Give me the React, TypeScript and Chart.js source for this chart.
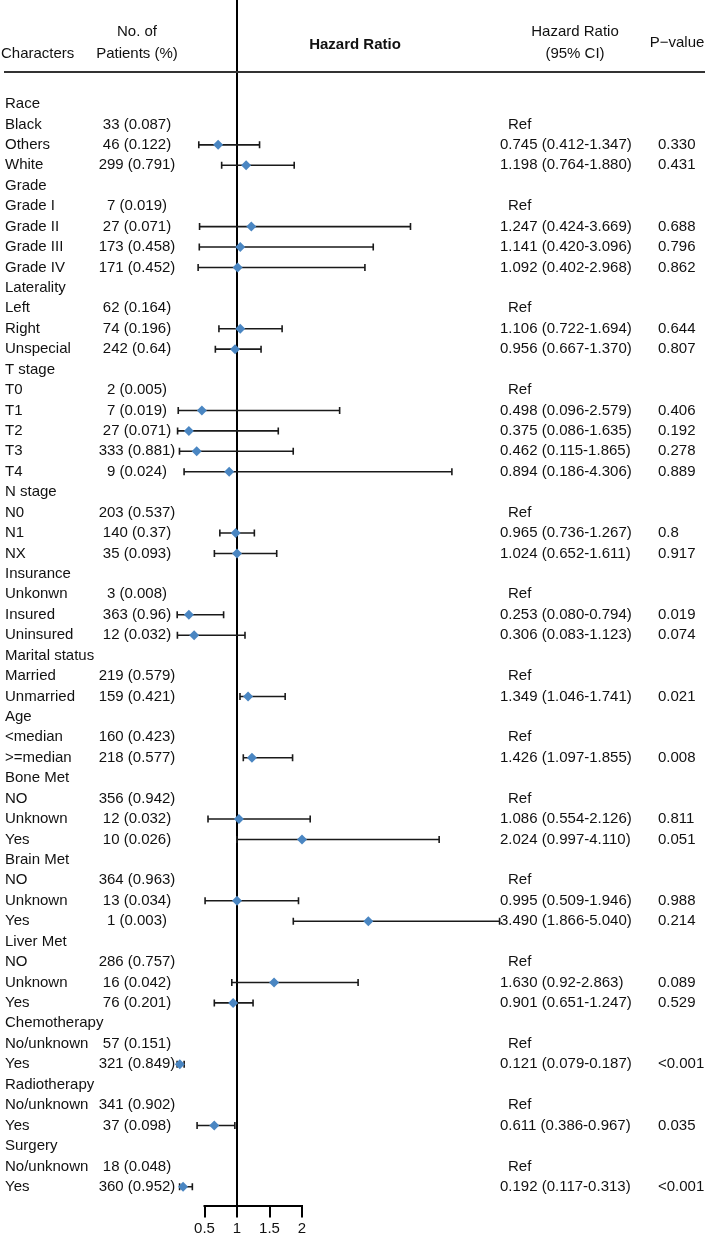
import { useEffect, useRef } from 'react';
import Chart from 'chart.js/auto';

const rowLabels = ['Race', 'Black', 'Others', 'White', 'Grade', 'Grade I', 'Grade II', 'Grade III', 'Grade IV', 'Laterality', 'Left', 'Right', 'Unspecial', 'T stage', 'T0', 'T1', 'T2', 'T3', 'T4', 'N stage', 'N0', 'N1', 'NX', 'Insurance', 'Unkonwn', 'Insured', 'Uninsured', 'Marital status', 'Married', 'Unmarried', 'Age', '<median', '>=median', 'Bone Met', 'NO', 'Unknown', 'Yes', 'Brain Met', 'NO', 'Unknown', 'Yes', 'Liver Met', 'NO', 'Unknown', 'Yes', 'Chemotherapy', 'No/unknown', 'Yes', 'Radiotherapy', 'No/unknown', 'Yes', 'Surgery', 'No/unknown', 'Yes'];

const patientCounts = ['', '33 (0.087)', '46 (0.122)', '299 (0.791)', '', '7 (0.019)', '27 (0.071)', '173 (0.458)', '171 (0.452)', '', '62 (0.164)', '74 (0.196)', '242 (0.64)', '', '2 (0.005)', '7 (0.019)', '27 (0.071)', '333 (0.881)', '9 (0.024)', '', '203 (0.537)', '140 (0.37)', '35 (0.093)', '', '3 (0.008)', '363 (0.96)', '12 (0.032)', '', '219 (0.579)', '159 (0.421)', '', '160 (0.423)', '218 (0.577)', '', '356 (0.942)', '12 (0.032)', '10 (0.026)', '', '364 (0.963)', '13 (0.034)', '1 (0.003)', '', '286 (0.757)', '16 (0.042)', '76 (0.201)', '', '57 (0.151)', '321 (0.849)', '', '341 (0.902)', '37 (0.098)', '', '18 (0.048)', '360 (0.952)'];

const hrLabels = ['', 'Ref', '0.745 (0.412-1.347)', '1.198 (0.764-1.880)', '', 'Ref', '1.247 (0.424-3.669)', '1.141 (0.420-3.096)', '1.092 (0.402-2.968)', '', 'Ref', '1.106 (0.722-1.694)', '0.956 (0.667-1.370)', '', 'Ref', '0.498 (0.096-2.579)', '0.375 (0.086-1.635)', '0.462 (0.115-1.865)', '0.894 (0.186-4.306)', '', 'Ref', '0.965 (0.736-1.267)', '1.024 (0.652-1.611)', '', 'Ref', '0.253 (0.080-0.794)', '0.306 (0.083-1.123)', '', 'Ref', '1.349 (1.046-1.741)', '', 'Ref', '1.426 (1.097-1.855)', '', 'Ref', '1.086 (0.554-2.126)', '2.024 (0.997-4.110)', '', 'Ref', '0.995 (0.509-1.946)', '3.490 (1.866-5.040)', '', 'Ref', '1.630 (0.92-2.863)', '0.901 (0.651-1.247)', '', 'Ref', '0.121 (0.079-0.187)', '', 'Ref', '0.611 (0.386-0.967)', '', 'Ref', '0.192 (0.117-0.313)'];

const pValues = ['', '', '0.330', '0.431', '', '', '0.688', '0.796', '0.862', '', '', '0.644', '0.807', '', '', '0.406', '0.192', '0.278', '0.889', '', '', '0.8', '0.917', '', '', '0.019', '0.074', '', '', '0.021', '', '', '0.008', '', '', '0.811', '0.051', '', '', '0.988', '0.214', '', '', '0.089', '0.529', '', '', '<0.001', '', '', '0.035', '', '', '<0.001'];

// marker positions as drawn in the picture
const hrMarkers: (number | null)[] = [null, null, 0.71, 1.14, null, null, 1.22, 1.05, 1.01, null, null, 1.05, 0.97, null, null, 0.46, 0.26, 0.38, 0.88, null, null, 0.98, 1.0, null, null, 0.26, 0.34, null, null, 1.17, null, null, 1.23, null, null, 1.03, 2.0, null, null, 1.0, 3.02, null, null, 1.57, 0.94, null, null, 0.12, null, null, 0.65, null, null, 0.17];

const ciLower: (number | null)[] = [null, null, 0.412, 0.764, null, null, 0.424, 0.420, 0.402, null, null, 0.722, 0.667, null, null, 0.096, 0.086, 0.115, 0.186, null, null, 0.736, 0.652, null, null, 0.080, 0.083, null, null, 1.046, null, null, 1.097, null, null, 0.554, 0.997, null, null, 0.509, 1.866, null, null, 0.92, 0.651, null, null, 0.079, null, null, 0.386, null, null, 0.117];

const ciUpper: (number | null)[] = [null, null, 1.347, 1.880, null, null, 3.669, 3.096, 2.968, null, null, 1.694, 1.370, null, null, 2.579, 1.635, 1.865, 4.306, null, null, 1.267, 1.611, null, null, 0.794, 1.123, null, null, 1.741, null, null, 1.855, null, null, 2.126, 4.110, null, null, 1.946, 5.040, null, null, 2.863, 1.247, null, null, 0.187, null, null, 0.967, null, null, 0.313];

const axisTicks = [0.5, 1, 1.5, 2];

const FONT = '"Liberation Sans", Arial, Helvetica, sans-serif';
// layout of the plot: pixel of HR = 1, pixels per HR unit, first row centre, row pitch
const X_ONE = 237;
const X_UNIT = 65;
const ROW0 = 104;
const ROW_STEP = 20.43;

export default function App() {
  const ref = useRef<HTMLCanvasElement>(null);

  useEffect(() => {
    document.body.style.margin = '0';
    const canvas = ref.current!;
    const ciData: any[] = [];
    const capData: any[] = [];
    const markerData: any[] = [];
    rowLabels.forEach((_, i) => {
      const lo = ciLower[i];
      const hi = ciUpper[i];
      if (lo != null && hi != null) {
        ciData.push({ x: lo, y: i }, { x: hi, y: i }, { x: null, y: null });
        capData.push({ x: lo, y: i }, { x: hi, y: i });
      }
      const m = hrMarkers[i];
      if (m != null) markerData.push({ x: m, y: i });
    });

    const fitPlugin = {
      id: 'fitScales',
      afterLayout(chart: any) {
        const a = chart.chartArea;
        const xs = chart.scales.x;
        const ys = chart.scales.y;
        xs.min = 1 - (X_ONE - a.left) / X_UNIT;
        xs.max = 1 + (a.right - X_ONE) / X_UNIT;
        xs.configure();
        ys.min = (a.top - ROW0) / ROW_STEP;
        ys.max = (a.bottom - ROW0) / ROW_STEP;
        ys.configure();
      },
    };

    const textPlugin = {
      id: 'forestText',
      afterDraw(chart: any) {
        const ctx = chart.ctx as CanvasRenderingContext2D;
        const ys = chart.scales.y;
        const xs = chart.scales.x;
        ctx.save();
        ctx.fillStyle = '#111';
        ctx.textBaseline = 'middle';
        ctx.font = `15px ${FONT}`;
        // header
        ctx.textAlign = 'left';
        ctx.fillText('Characters', 1, 54);
        ctx.textAlign = 'center';
        ctx.fillText('No. of', 137, 32);
        ctx.fillText('Patients (%)', 137, 54);
        ctx.fillText('Hazard Ratio', 575, 32);
        ctx.fillText('(95% CI)', 575, 54);
        ctx.fillText('P\u2212value', 677, 43);
        ctx.font = `bold 15px ${FONT}`;
        ctx.fillText('Hazard Ratio', 355, 45);
        // header rule
        ctx.strokeStyle = '#333';
        ctx.lineWidth = 2;
        ctx.beginPath();
        ctx.moveTo(4, 72);
        ctx.lineTo(705, 72);
        ctx.stroke();
        // rows
        ctx.font = `15px ${FONT}`;
        rowLabels.forEach((lab, i) => {
          const py = ys.getPixelForValue(i);
          ctx.textAlign = 'left';
          ctx.fillText(lab, 5, py);
          if (patientCounts[i]) {
            ctx.textAlign = 'center';
            ctx.fillText(patientCounts[i], 137, py);
          }
          if (hrLabels[i]) {
            ctx.textAlign = 'left';
            ctx.fillText(hrLabels[i], hrLabels[i] === 'Ref' ? 508 : 500, py);
          }
          if (pValues[i]) {
            ctx.textAlign = 'left';
            ctx.fillText(pValues[i], 658, py);
          }
        });
        // bottom axis line between first and last tick
        ctx.strokeStyle = '#000';
        ctx.lineWidth = 2;
        ctx.beginPath();
        const by = Math.round(chart.chartArea.bottom);
        ctx.moveTo(xs.getPixelForValue(axisTicks[0]) - 1, by);
        ctx.lineTo(xs.getPixelForValue(axisTicks[axisTicks.length - 1]) + 1, by);
        ctx.stroke();
        ctx.restore();
      },
    };

    const chart = new Chart(canvas, {
      type: 'scatter',
      data: {
        datasets: [
          {
            label: 'CI',
            data: ciData,
            showLine: true,
            spanGaps: false,
            borderColor: '#1a1a1a',
            borderWidth: 1.6,
            pointRadius: 0,
            order: 3,
          } as any,
          {
            label: 'caps',
            data: capData,
            pointStyle: 'line',
            rotation: 90,
            pointRadius: 3.5,
            borderColor: '#1a1a1a',
            borderWidth: 1.6,
            order: 2,
          } as any,
          {
            label: 'HR',
            data: markerData,
            pointStyle: 'rectRot',
            pointRadius: 5,
            backgroundColor: '#4a86c2',
            borderColor: '#4a86c2',
            borderWidth: 0,
            order: 1,
          } as any,
        ],
      },
      options: {
        animation: false,
        responsive: false,
        devicePixelRatio: 1,
        events: [],
        layout: { padding: 0, autoPadding: false },
        plugins: { legend: { display: false }, tooltip: { enabled: false } },
        scales: {
          x: {
            type: 'linear',
            min: 1 - X_ONE / X_UNIT,
            max: 1 + (706 - X_ONE) / X_UNIT,
            afterBuildTicks: (s: any) => {
              s.ticks = axisTicks.map((v) => ({ value: v }));
            },
            grid: {
              color: (c: any) => (c.tick && c.tick.value === 1 ? '#000' : 'rgba(0,0,0,0)'),
              tickColor: '#000',
              lineWidth: 2,
              tickLength: 12,
              drawOnChartArea: true,
            },
            border: { display: false },
            ticks: {
              color: '#111',
              padding: 3,
              autoSkip: false,
              maxRotation: 0,
              font: { family: FONT, size: 15, lineHeight: 1.1 },
              callback: (v: any) => String(v),
            },
          },
          y: {
            type: 'linear',
            reverse: true,
            min: -ROW0 / ROW_STEP,
            max: (1208 - ROW0) / ROW_STEP,
            display: false,
          },
        },
      },
      plugins: [fitPlugin, textPlugin],
    });
    return () => chart.destroy();
  }, []);

  return <canvas ref={ref} width={706} height={1240} style={{ display: 'block', width: 706, height: 1240 }} />;
}
